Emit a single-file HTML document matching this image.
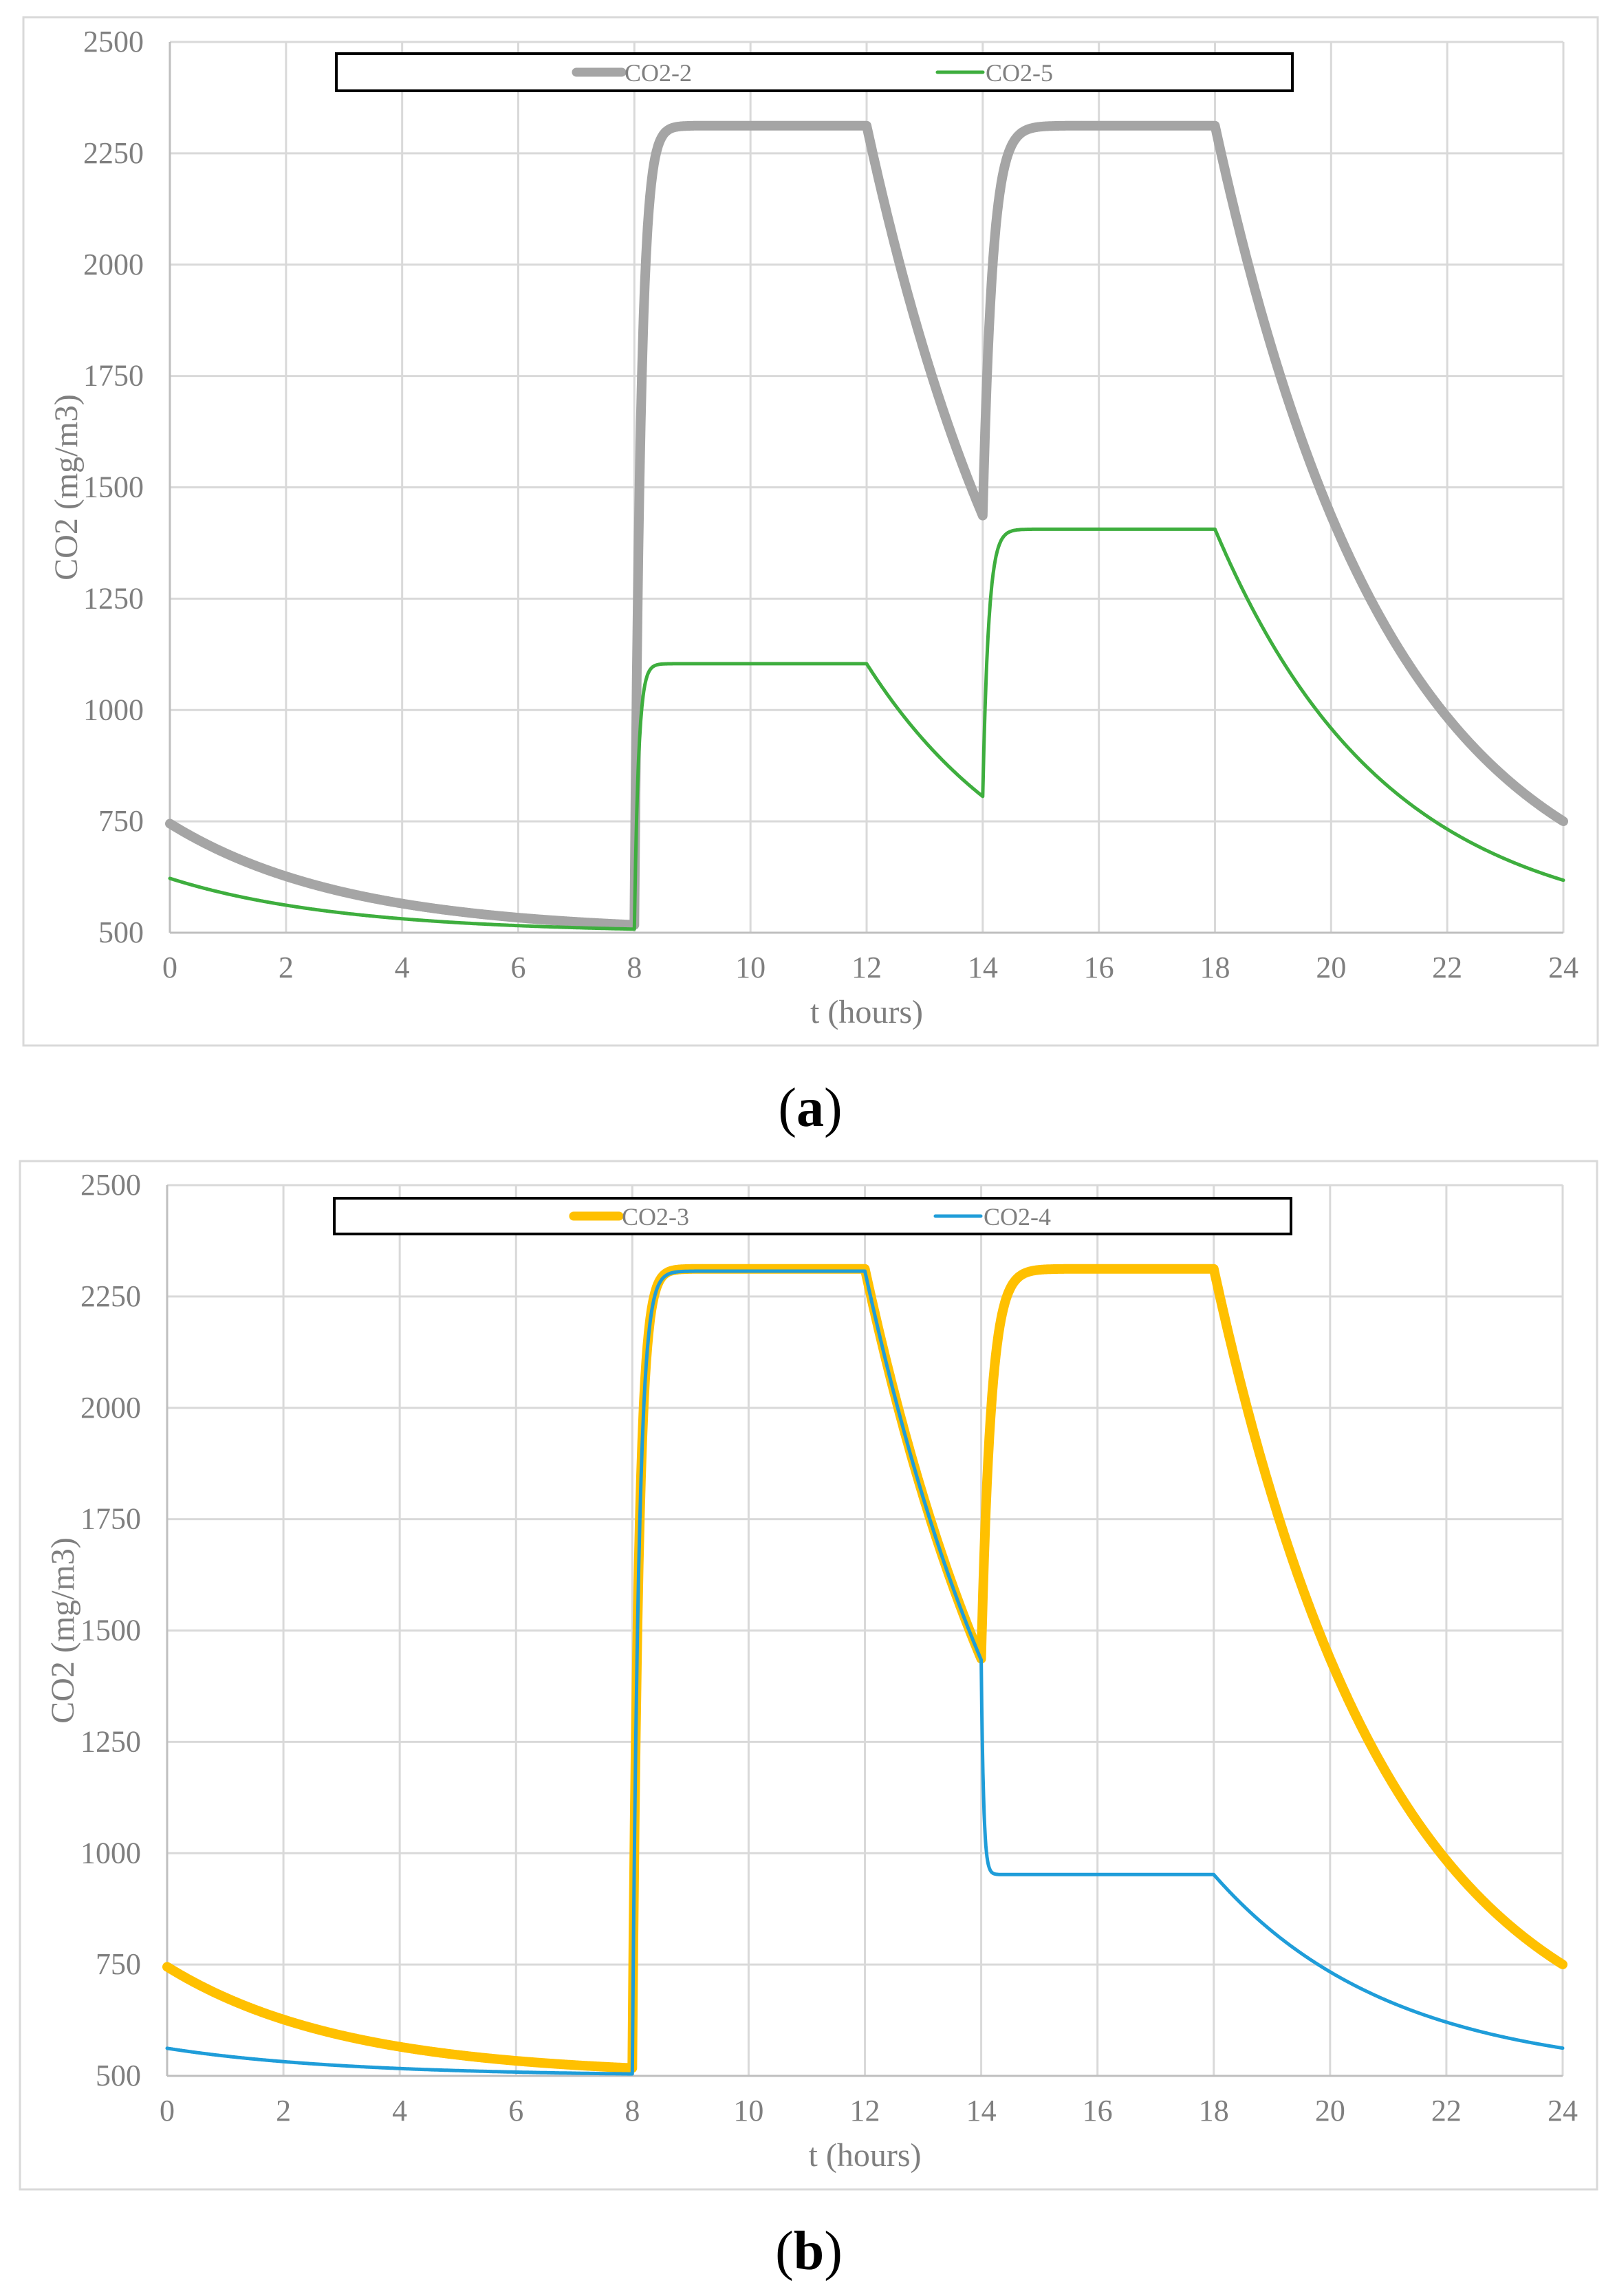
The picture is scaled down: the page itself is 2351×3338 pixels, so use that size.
<!DOCTYPE html>
<html><head><meta charset="utf-8"><style>
html,body{margin:0;padding:0;background:#fff;}
svg{display:block;}
text{font-family:"Liberation Serif",serif;}
</style></head><body>
<svg id="s" width="2351" height="3338" xmlns="http://www.w3.org/2000/svg"></svg>
<script>
const S=document.getElementById('s');
let h='';
function add(x){h+=x;}
function chart(o){
 const {L,R,T,B,box}=o;
 add(`<rect x="${box[0]}" y="${box[1]}" width="${box[2]-box[0]}" height="${box[3]-box[1]}" fill="#fff" stroke="#d9d9d9" stroke-width="3"/>`);
 const X=t=>L+(R-L)*t/24, Y=v=>B-(B-T)*(v-500)/2000;
 for(let i=1;i<=12;i++){add(`<line x1="${X(2*i)}" y1="${T}" x2="${X(2*i)}" y2="${B}" stroke="#d9d9d9" stroke-width="3"/>`);}
 for(let i=1;i<=8;i++){add(`<line x1="${L}" y1="${Y(500+250*i)}" x2="${R}" y2="${Y(500+250*i)}" stroke="#d9d9d9" stroke-width="3"/>`);}
 add(`<line x1="${L}" y1="${T}" x2="${L}" y2="${B}" stroke="#bfbfbf" stroke-width="3"/>`);
 add(`<line x1="${L}" y1="${B}" x2="${R}" y2="${B}" stroke="#bfbfbf" stroke-width="3"/>`);
 for(let i=0;i<=8;i++){add(`<text x="${L-38}" y="${Y(500+250*i)+14}" font-size="44" fill="#7f7f7f" text-anchor="end">${500+250*i}</text>`);}
 for(let i=0;i<=12;i++){add(`<text x="${X(2*i)}" y="${B+65}" font-size="44" fill="#7f7f7f" text-anchor="middle">${2*i}</text>`);}
 add(`<text x="${(L+R)/2}" y="${B+131}" font-size="48" fill="#7f7f7f" text-anchor="middle">t (hours)</text>`);
 add(`<text transform="translate(${box[0]+78},${(T+B)/2}) rotate(-90)" font-size="48" fill="#7f7f7f" text-anchor="middle">CO2 (mg/m3)</text>`);
 const lg=o.leg;
 add(`<rect x="${lg[0]}" y="${lg[1]}" width="${lg[2]-lg[0]}" height="${lg[3]-lg[1]}" fill="#fff" stroke="#000" stroke-width="4"/>`);
 const ly=(lg[1]+lg[3])/2;
 o.items.forEach(it=>{
  add(`<line x1="${it.x+4}" y1="${ly}" x2="${it.x+70}" y2="${ly}" stroke="${it.c}" stroke-width="${it.w}" stroke-linecap="round"/>`);
  add(`<text x="${it.x+74}" y="${ly+13}" font-size="36" fill="#7f7f7f" textLength="98" lengthAdjust="spacingAndGlyphs">${it.n}</text>`);
 });
 o.series.forEach(se=>{
  let d='';
  for(let i=0;i<=2400;i++){const t=i/100;const v=se.f(t);d+=(i?'L':'M')+X(t).toFixed(1)+' '+Y(v).toFixed(1);}
  add(`<path d="${d}" fill="none" stroke="${se.c}" stroke-width="${se.w}" stroke-linejoin="round" stroke-linecap="round"/>`);
 });
 add(`<text x="${o.cap[0]}" y="${o.cap[1]}" font-size="80" fill="#000" text-anchor="middle">(<tspan font-weight="bold">${o.capl}</tspan>)</text>`);
}
function mk(p){
 const {c0,ss1,r1,ss2,r2,k}=p;
 const dec=(v0,dt)=>500+(v0-500)*Math.exp(-k*dt);
 const v8=dec(c0,8);
 const rise=(v0,ss,r,dt)=>ss-(ss-v0)*Math.exp(-r*dt);
 const v12=rise(v8,ss1,r1,4);
 const v14=dec(v12,2);
 const v18=rise(v14,ss2,r2,4);
 return t=>{
  if(t<=8)return dec(c0,t);
  if(t<=12)return rise(v8,ss1,r1,t-8);
  if(t<=14)return dec(v12,t-12);
  if(t<=18)return rise(v14,ss2,r2,t-14);
  return dec(v18,t-18);
 };
}
const big=mk({c0:745,ss1:2312,r1:9,ss2:2312,r2:6,k:0.33});
const green=mk({c0:622,ss1:1104,r1:14,ss2:1406,r2:10,k:0.34});
const blue=mk({c0:562,ss1:2307,r1:9,ss2:952,r2:25,k:0.33});
chart({L:247,R:2273,T:61,B:1356,box:[34,25,2323,1520],leg:[489,78,1879,132],
 items:[{x:834,c:'#a5a5a5',w:13,n:'CO2-2'},{x:1359,c:'#3eae3e',w:5,n:'CO2-5'}],
 series:[{f:big,c:'#a5a5a5',w:14},{f:green,c:'#3eae3e',w:5}],cap:[1178,1637],capl:'a'});
chart({L:243,R:2272,T:1723,B:3018,box:[29,1688,2322,3183],leg:[486,1742,1877,1794],
 items:[{x:830,c:'#ffc000',w:13,n:'CO2-3'},{x:1356,c:'#1f9dd9',w:5,n:'CO2-4'}],
 series:[{f:big,c:'#ffc000',w:14},{f:blue,c:'#1f9dd9',w:5}],cap:[1176,3299],capl:'b'});
S.innerHTML=h;
</script>
</body></html>
